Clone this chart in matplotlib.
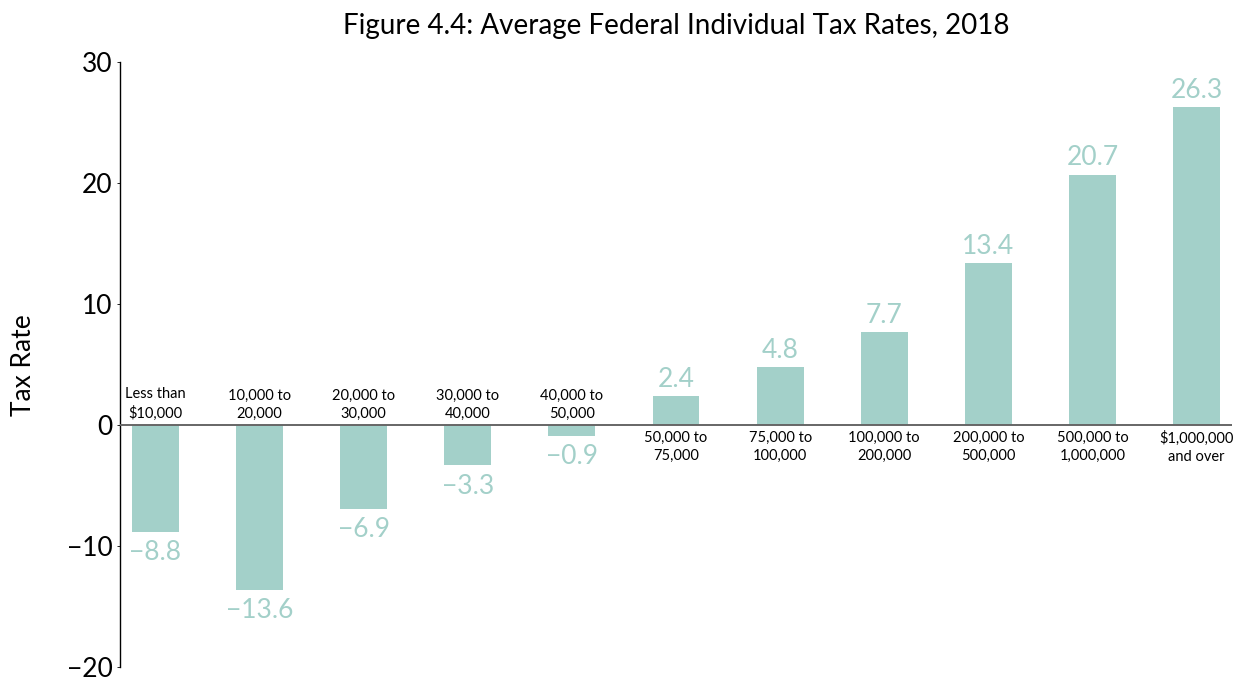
import matplotlib.pyplot as plt
import numpy as np

plt.rcParams['font.family'] = ['Lato', 'DejaVu Sans']
plt.rcParams['axes.unicode_minus'] = True

# income groups and average federal individual tax rates (%)
income_groups = [
    "Less than\n$10,000", "10,000 to\n20,000", "20,000 to\n30,000",
    "30,000 to\n40,000", "40,000 to\n50,000", "50,000 to\n75,000",
    "75,000 to\n100,000", "100,000 to\n200,000", "200,000 to\n500,000",
    "500,000 to\n1,000,000", "$1,000,000\nand over",
]
tax_rates = [-8.8, -13.6, -6.9, -3.3, -0.9, 2.4, 4.8, 7.7, 13.4, 20.7, 26.3]

bar_color = "#a3d0c9"

fig = plt.figure(figsize=(12.49, 6.81), dpi=100)
ax = fig.add_axes([0.0961, 0.0200, 0.8903, 0.8890])

x = np.arange(len(tax_rates))
ax.bar(x, tax_rates, width=0.45, color=bar_color, zorder=2)
ax.axhline(0, color="#666666", linewidth=1.4, zorder=3)

for xi, val, name in zip(x, tax_rates, income_groups):
    txt = f"{val:.1f}".replace("-", "\u2212")
    if val >= 0:
        ax.annotate(txt, (xi, val), xytext=(0, 3), textcoords="offset points",
                    ha="center", va="bottom", fontsize=19, color=bar_color)
        ax.annotate(name, (xi, 0), xytext=(0, -4), textcoords="offset points",
                    ha="center", va="top", fontsize=10.5, linespacing=1.4)
    else:
        ax.annotate(txt, (xi, val), xytext=(0, -6), textcoords="offset points",
                    ha="center", va="top", fontsize=19, color=bar_color)
        ax.annotate(name, (xi, 0), xytext=(0, 3), textcoords="offset points",
                    ha="center", va="bottom", fontsize=10.5, linespacing=1.4)

ax.set_xlim(-0.34, 10.34)
ax.set_ylim(-20, 30)
ax.set_yticks([-20, -10, 0, 10, 20, 30])
ax.tick_params(axis="y", labelsize=19, length=2, width=0.6)
ax.set_xticks([])
for side in ["top", "right", "bottom"]:
    ax.spines[side].set_visible(False)
ax.spines["left"].set_linewidth(1.0)

ax.set_ylabel("Tax Rate", fontsize=19, labelpad=22)
ax.set_title("Figure 4.4: Average Federal Individual Tax Rates, 2018",
             fontsize=20, pad=20)

fig.savefig("out.png", dpi=100)
